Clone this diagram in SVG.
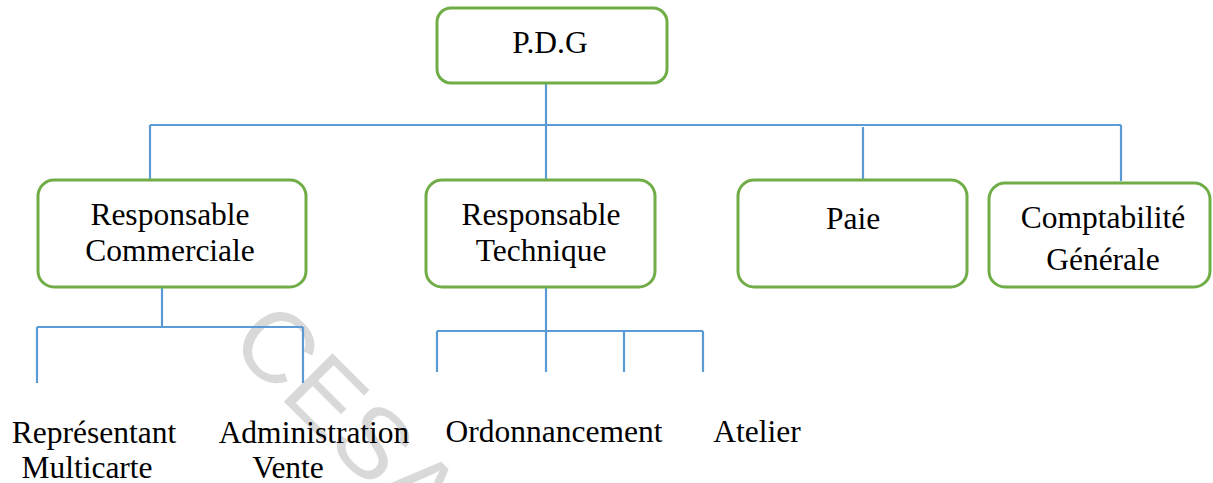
<svg xmlns="http://www.w3.org/2000/svg" width="1213" height="483" viewBox="0 0 1213 483">
<style>
.box{fill:#ffffff;stroke:#70AD47;stroke-width:3}
.lbl{font-family:"Liberation Serif","Times New Roman",serif;font-size:31.5px;fill:#000;text-anchor:middle}
.con{stroke:#5B9BD5;stroke-width:2.2;fill:none}
.wm{font-family:"Liberation Sans",Arial,sans-serif;font-size:100px;fill:#d9d9d9}
</style>
<rect width="1213" height="483" fill="#ffffff"/>
<text class="wm" x="227" y="345" transform="rotate(45 227 345)">CESAG</text>
<g id="connectors">
<path class="con" d="M546 83V125M150 125H1121M150 125V180M546 125V180M863 127V183M1121 125V181"/>
<path class="con" d="M162 288V327M37 327H303M37 327V383M303 327V383"/>
<path class="con" d="M546 288V331M437 331H703M437 331V372M546 331V372M624 331V372M703 331V372"/>
</g>
<g id="pdg"><rect class="box" x="437" y="8" width="230" height="75" rx="14"/><text class="lbl" x="550" y="53">P.D.G</text></g>
<g id="resp-commerciale"><rect class="box" x="38" y="180" width="268" height="107" rx="16"/><text class="lbl" x="170" y="225">Responsable</text><text class="lbl" x="170" y="261">Commerciale</text></g>
<g id="resp-technique"><rect class="box" x="426" y="180" width="229" height="107" rx="16"/><text class="lbl" x="541" y="225">Responsable</text><text class="lbl" x="541" y="261">Technique</text></g>
<g id="paie"><rect class="box" x="738" y="180" width="229" height="107" rx="16"/><text class="lbl" x="853" y="229">Paie</text></g>
<g id="comptabilite"><rect class="box" x="989" y="183" width="221" height="104" rx="16"/><text class="lbl" x="1103" y="228">Comptabilité</text><text class="lbl" x="1103" y="270">Générale</text></g>
<g id="representant"><text class="lbl" x="94" y="443">Représentant</text><text class="lbl" x="87" y="478">Multicarte</text></g>
<g id="administration"><text class="lbl" x="314" y="443">Administration</text><text class="lbl" x="288" y="478">Vente</text></g>
<g id="ordonnancement"><text class="lbl" x="554" y="442">Ordonnancement</text></g>
<g id="atelier"><text class="lbl" x="757" y="442">Atelier</text></g>
</svg>
